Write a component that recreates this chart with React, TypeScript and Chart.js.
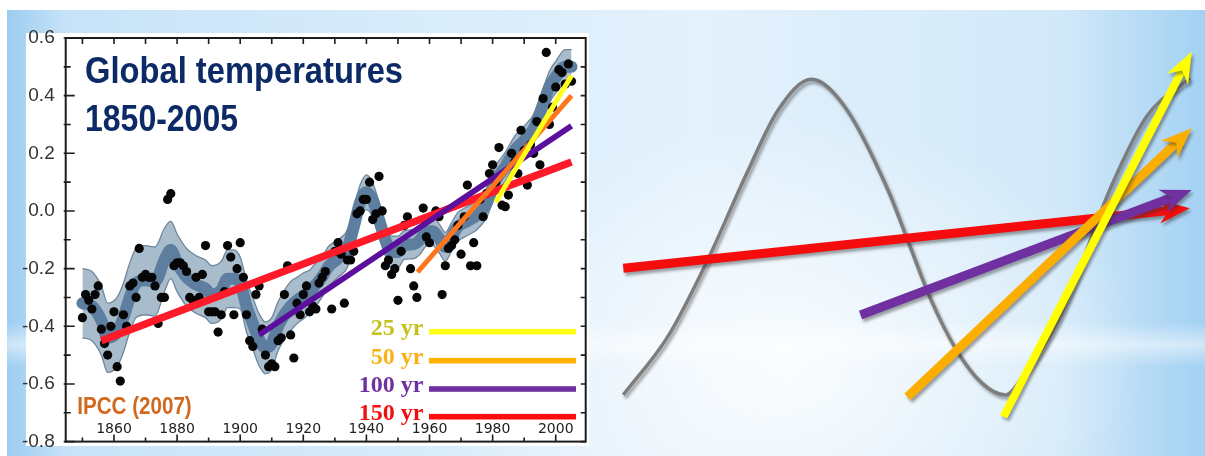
import React, { useEffect, useRef } from 'react';
import { Chart, registerables } from 'chart.js';

Chart.register(...registerables);

// ---------------- Left chart data ----------------
const YEARS = [
  1850, 1851, 1852, 1853, 1854, 1855, 1856, 1857, 1858, 1859,
  1860, 1861, 1862, 1863, 1864, 1865, 1866, 1867, 1868, 1869,
  1870, 1871, 1872, 1873, 1874, 1875, 1876, 1877, 1878, 1879,
  1880, 1881, 1882, 1883, 1884, 1885, 1886, 1887, 1888, 1889,
  1890, 1891, 1892, 1893, 1894, 1895, 1896, 1897, 1898, 1899,
  1900, 1901, 1902, 1903, 1904, 1905, 1906, 1907, 1908, 1909,
  1910, 1911, 1912, 1913, 1914, 1915, 1916, 1917, 1918, 1919,
  1920, 1921, 1922, 1923, 1924, 1925, 1926, 1927, 1929,
  1930, 1931, 1932, 1933, 1934, 1935, 1936, 1937, 1938, 1939,
  1940, 1941, 1942, 1943, 1944, 1945, 1946, 1947, 1948, 1949,
  1950, 1951, 1952, 1953, 1954, 1955, 1956, 1958, 1959,
  1960, 1962, 1963, 1964, 1965, 1966, 1967, 1968, 1969,
  1970, 1971, 1972, 1973, 1974, 1975, 1976, 1977, 1978, 1979,
  1980, 1981, 1982, 1983, 1984, 1985, 1986, 1987, 1988, 1989,
  1990, 1991, 1992, 1993, 1994, 1995, 1996, 1997, 1998, 1999,
  2000, 2001, 2002, 2003, 2004, 2005,
];
const ANOMALY = [
  -0.37, -0.29, -0.31, -0.34, -0.29, -0.26, -0.41, -0.46, -0.5, -0.4,
  -0.35, -0.54, -0.59, -0.36, -0.4, -0.26, -0.25, -0.3, -0.13, -0.23,
  -0.22, -0.23, -0.23, -0.26, -0.39, -0.3, -0.3, 0.04, 0.06, -0.19,
  -0.18, -0.18, -0.19, -0.21, -0.3, -0.31, -0.23, -0.3, -0.22, -0.12,
  -0.35, -0.35, -0.35, -0.42, -0.36, -0.28, -0.12, -0.16, -0.36, -0.2,
  -0.11, -0.23, -0.36, -0.45, -0.47, -0.29, -0.26, -0.41, -0.5, -0.54,
  -0.53, -0.54, -0.45, -0.44, -0.29, -0.19, -0.43, -0.51, -0.32, -0.36,
  -0.29, -0.26, -0.35, -0.33, -0.34, -0.25, -0.23, -0.21, -0.34,
  -0.14, -0.11, -0.15, -0.32, -0.17, -0.17, -0.14, -0.01, 0.0, 0.04,
  0.04, 0.1, -0.03, -0.01, 0.12, 0.0, -0.19, -0.17, -0.22, -0.2,
  -0.31, -0.14, -0.05, -0.02, -0.2, -0.26, -0.3, 0.01, -0.09,
  -0.11, 0.0, -0.02, -0.29, -0.19, -0.13, -0.12, -0.1, -0.05,
  -0.15, -0.02, 0.09, -0.19, -0.11, -0.19, 0.04, -0.02, 0.06, 0.13,
  0.16, 0.1, 0.22, 0.02, 0.015, 0.055, 0.2, 0.17, 0.13, 0.28,
  0.21, 0.09, 0.23, 0.2, 0.31, 0.16, 0.39, 0.55, 0.3, 0.36,
  0.43, 0.49, 0.48, 0.44, 0.51, 0.45,
];

const SMOOTH_YEARS = [
  1850, 1853, 1856, 1858, 1861, 1863, 1865, 1867, 1870, 1873,
  1876, 1878, 1880, 1883, 1886, 1889, 1891, 1894, 1896, 1898,
  1900, 1902, 1904, 1906, 1908, 1910, 1912, 1914, 1916, 1918,
  1920, 1922, 1924, 1926, 1928, 1931, 1934, 1936, 1938, 1940,
  1942, 1944, 1946, 1948, 1950, 1952, 1955, 1957, 1959, 1961,
  1963, 1965, 1967, 1969, 1972, 1975, 1978, 1981, 1984, 1987,
  1990, 1993, 1996, 1998, 2000, 2003, 2005,
];
const SMOOTH = [
  -0.32, -0.33, -0.38, -0.44, -0.42, -0.37, -0.3, -0.25, -0.24, -0.245,
  -0.17, -0.135, -0.18, -0.23, -0.255, -0.27, -0.29, -0.275, -0.235, -0.235,
  -0.25, -0.33, -0.39, -0.447, -0.475, -0.46, -0.4, -0.36, -0.33, -0.31,
  -0.295, -0.28, -0.255, -0.228, -0.193, -0.165, -0.13, -0.055, 0.03, 0.065,
  0.038, -0.03, -0.1, -0.142, -0.142, -0.118, -0.115, -0.1, -0.072, -0.07,
  -0.094, -0.124, -0.09, -0.055, -0.035, -0.015, 0.025, 0.107, 0.153, 0.21,
  0.245, 0.285, 0.37, 0.43, 0.464, 0.5, 0.5,
];
const BAND_UPPER = [
  -0.2, -0.21, -0.26, -0.32, -0.3, -0.25, -0.18, -0.13, -0.12, -0.125,
  -0.06, -0.035, -0.08, -0.13, -0.155, -0.17, -0.19, -0.175, -0.135, -0.135,
  -0.16, -0.24, -0.3, -0.357, -0.385, -0.37, -0.315, -0.275, -0.245, -0.23,
  -0.215, -0.205, -0.18, -0.158, -0.123, -0.1, -0.065, 0.01, 0.09, 0.125,
  0.098, 0.03, -0.045, -0.087, -0.087, -0.068, -0.065, -0.05, -0.022, -0.02,
  -0.044, -0.074, -0.04, -0.005, 0.015, 0.035, 0.075, 0.157, 0.203, 0.26,
  0.295, 0.335, 0.425, 0.485, 0.519, 0.56, 0.56,
];
const BAND_LOWER = [
  -0.44, -0.45, -0.5, -0.56, -0.54, -0.49, -0.42, -0.37, -0.36, -0.365,
  -0.28, -0.235, -0.28, -0.33, -0.355, -0.37, -0.39, -0.375, -0.335, -0.335,
  -0.34, -0.42, -0.48, -0.537, -0.565, -0.55, -0.485, -0.445, -0.415, -0.39,
  -0.375, -0.355, -0.33, -0.298, -0.263, -0.23, -0.195, -0.12, -0.03, 0.005,
  -0.022, -0.09, -0.155, -0.197, -0.197, -0.168, -0.165, -0.15, -0.122, -0.12,
  -0.144, -0.174, -0.14, -0.105, -0.085, -0.065, -0.025, 0.057, 0.103, 0.16,
  0.195, 0.235, 0.315, 0.375, 0.409, 0.44, 0.44,
];

// Linear trends: [start year, end year] and [start value, end value]
const TREND_150_X = [1856, 2005];
const TREND_150_Y = [-0.45, 0.17];
const TREND_100_X = [1906, 2005];
const TREND_100_Y = [-0.43, 0.295];
const TREND_50_X = [1956.2, 2005];
const TREND_50_Y = [-0.212, 0.4];
const TREND_25_X = [1981, 2005];
const TREND_25_Y = [0.031, 0.469];

const LEGEND_LABELS = ['25 yr', '50 yr', '100 yr', '150 yr'];
const X_TICKS = [1860, 1880, 1900, 1920, 1940, 1960, 1980, 2000];
const Y_TICKS = [-0.8, -0.6, -0.4, -0.2, 0.0, 0.2, 0.4, 0.6];

// ---------------- Right schematic data ----------------
const CURVE_X = [0.385, 1.131, 1.779, 2.426, 2.945, 3.496, 4.046, 4.759, 5.083, 5.471, 5.893, 6.314, 6.702, 7.025, 7.603, 8.446, 9.035, 9.752];
const CURVE_Y = [-0.726, -0.46, -0.121, 0.268, 0.552, 0.689, 0.566, 0.193, -0.031, -0.3, -0.525, -0.673, -0.726, -0.628, -0.377, 0.206, 0.522, 0.695];
const ARROW_RED_X = [0.385, 9.749];
const ARROW_RED_Y = [-0.158, 0.111];
const ARROW_PURPLE_X = [4.306, 9.78];
const ARROW_PURPLE_Y = [-0.368, 0.193];
const ARROW_ORANGE_X = [5.083, 9.78];
const ARROW_ORANGE_Y = [-0.734, 0.47];
const ARROW_YELLOW_X = [6.671, 9.78];
const ARROW_YELLOW_Y = [-0.824, 0.813];

const zip = (xs: number[], ys: number[]) => xs.map((x, i) => ({ x, y: ys[i] }));

const SANS = '"Liberation Sans", Arial, Helvetica, sans-serif';

function fitText(ctx: CanvasRenderingContext2D, text: string, x: number, y: number, width: number, font: string, color: string) {
  ctx.save();
  ctx.font = font;
  const w = ctx.measureText(text).width;
  ctx.translate(x, y);
  ctx.scale(width / w, 1);
  ctx.fillStyle = color;
  ctx.textAlign = 'left';
  ctx.textBaseline = 'alphabetic';
  ctx.fillText(text, 0, 0);
  ctx.restore();
}

const leftDecor = {
  id: 'leftDecor',
  afterDatasetsDraw(chart: any) {
    const { ctx, chartArea: a, scales } = chart;
    const xs = scales.x;
    const ys = scales.y;
    ctx.save();
    ctx.strokeStyle = '#1c1c1c';
    ctx.lineWidth = 2;
    ctx.strokeRect(a.left, a.top, a.right - a.left, a.bottom - a.top);
    ctx.lineWidth = 1.6;
    ctx.beginPath();
    for (let yr = 1850; yr <= 2000; yr += 10) {
      const px = xs.getPixelForValue(yr);
      const major = yr % 20 === 0;
      ctx.moveTo(px, a.bottom);
      ctx.lineTo(px, a.bottom - (major ? 7 : 4));
      ctx.moveTo(px, a.top);
      ctx.lineTo(px, a.top + 6);
    }
    for (let k = -8; k <= 6; k++) {
      const py = ys.getPixelForValue(k / 10);
      const major = k % 2 === 0;
      ctx.moveTo(a.left - 2, py);
      ctx.lineTo(a.left + (major ? 9 : 5), py);
      ctx.moveTo(a.right, py);
      ctx.lineTo(a.right - 5, py);
    }
    ctx.stroke();

    fitText(ctx, 'Global temperatures', 85, 83, 318, `bold 36px ${SANS}`, '#0c2a66');
    fitText(ctx, '1850-2005', 85, 131, 153, `bold 36px ${SANS}`, '#0c2a66');
    fitText(ctx, 'IPCC (2007)', 77.3, 414, 114.4, `bold 24px ${SANS}`, '#d2681d');

    const textColors = ['#c4c21c', '#fbb017', '#7030a0', '#f40d0d'];
    const lineColors = ['#ffff14', '#ffb300', '#7030a0', '#ff0d0d'];
    const baselines = [335, 363.5, 392, 419.5];
    const lineYs = [331.7, 360.7, 389, 416.7];
    ctx.font = `bold 24px "Liberation Serif", "Times New Roman", serif`;
    ctx.textAlign = 'right';
    ctx.textBaseline = 'alphabetic';
    LEGEND_LABELS.forEach((lab, i) => {
      ctx.fillStyle = textColors[i];
      ctx.fillText(lab, 423.5, baselines[i]);
      ctx.fillStyle = lineColors[i];
      ctx.fillRect(429, lineYs[i] - 2.8, 147, 5.6);
    });
    ctx.restore();
  },
};

const HEAD_LEN = 31;
const HEAD_HALF = 12;
const NOTCH = 0.68;

function arrowGeom(meta: any) {
  const pts = meta.data;
  const a = pts[pts.length - 2];
  const b = pts[pts.length - 1];
  const ang = Math.atan2(b.y - a.y, b.x - a.x);
  const ux = Math.cos(ang);
  const uy = Math.sin(ang);
  return { tx: b.x, ty: b.y, ux, uy, px: -uy, py: ux };
}

function setShadow(ctx: CanvasRenderingContext2D) {
  ctx.shadowColor = 'rgba(50,50,50,0.45)';
  ctx.shadowBlur = 3;
  ctx.shadowOffsetX = 2;
  ctx.shadowOffsetY = 3;
}

const arrowPlugin = {
  id: 'arrowPlugin',
  beforeDatasetDraw(chart: any, args: any) {
    const ctx = chart.ctx;
    const ds = chart.data.datasets[args.index];
    ctx.save();
    setShadow(ctx);
    if (ds.isArrow) {
      const g = arrowGeom(args.meta);
      const bx = g.tx - g.ux * (HEAD_LEN * NOTCH - 3);
      const by = g.ty - g.uy * (HEAD_LEN * NOTCH - 3);
      const R = 3000;
      ctx.beginPath();
      ctx.moveTo(bx + g.px * R, by + g.py * R);
      ctx.lineTo(bx - g.px * R, by - g.py * R);
      ctx.lineTo(bx - g.px * R - g.ux * R, by - g.py * R - g.uy * R);
      ctx.lineTo(bx + g.px * R - g.ux * R, by + g.py * R - g.uy * R);
      ctx.closePath();
      ctx.clip();
    }
  },
  afterDatasetDraw(chart: any, args: any) {
    const ctx = chart.ctx;
    ctx.restore();
    const ds = chart.data.datasets[args.index];
    if (!ds.isArrow) return;
    const g = arrowGeom(args.meta);
    ctx.save();
    setShadow(ctx);
    ctx.fillStyle = ds.borderColor;
    ctx.beginPath();
    ctx.moveTo(g.tx, g.ty);
    ctx.lineTo(g.tx - g.ux * HEAD_LEN + g.px * HEAD_HALF, g.ty - g.uy * HEAD_LEN + g.py * HEAD_HALF);
    ctx.lineTo(g.tx - g.ux * HEAD_LEN * NOTCH, g.ty - g.uy * HEAD_LEN * NOTCH);
    ctx.lineTo(g.tx - g.ux * HEAD_LEN - g.px * HEAD_HALF, g.ty - g.uy * HEAD_LEN - g.py * HEAD_HALF);
    ctx.closePath();
    ctx.fill();
    ctx.restore();
  },
};

export default function App() {
  const leftRef = useRef<HTMLCanvasElement | null>(null);
  const rightRef = useRef<HTMLCanvasElement | null>(null);

  useEffect(() => {
    const left = new Chart(leftRef.current as HTMLCanvasElement, {
      type: 'line',
      data: {
        datasets: [
          {
            label: 'uncertainty upper',
            data: zip(SMOOTH_YEARS, BAND_UPPER),
            borderColor: '#6d869d',
            borderWidth: 1.3,
            backgroundColor: '#a9bccc',
            fill: '+1',
            pointRadius: 0,
            cubicInterpolationMode: 'monotone',
            order: 7,
          },
          {
            label: 'uncertainty lower',
            data: zip(SMOOTH_YEARS, BAND_LOWER),
            borderColor: '#6d869d',
            borderWidth: 1.3,
            fill: false,
            pointRadius: 0,
            cubicInterpolationMode: 'monotone',
            order: 6,
          },
          {
            label: 'smoothed',
            data: zip(SMOOTH_YEARS, SMOOTH),
            borderColor: '#5d7e9e',
            borderWidth: 12,
            fill: false,
            pointRadius: 0,
            cubicInterpolationMode: 'monotone',
            borderCapStyle: 'round',
            borderJoinStyle: 'round',
            order: 5,
          },
          {
            label: 'annual',
            data: zip(YEARS, ANOMALY),
            showLine: false,
            pointRadius: 4.6,
            pointBackgroundColor: '#060606',
            pointBorderWidth: 0,
            order: 4,
          },
          {
            label: '150 yr',
            data: zip(TREND_150_X, TREND_150_Y),
            borderColor: '#ff1a2a',
            borderWidth: 7.5,
            pointRadius: 0,
            borderCapStyle: 'butt',
            order: 3,
          },
          {
            label: '100 yr',
            data: zip(TREND_100_X, TREND_100_Y),
            borderColor: '#5b0f9c',
            borderWidth: 5.8,
            pointRadius: 0,
            borderCapStyle: 'butt',
            order: 2,
          },
          {
            label: '50 yr',
            data: zip(TREND_50_X, TREND_50_Y),
            borderColor: '#ff761c',
            borderWidth: 5,
            pointRadius: 0,
            borderCapStyle: 'butt',
            order: 1,
          },
          {
            label: '25 yr',
            data: zip(TREND_25_X, TREND_25_Y),
            borderColor: '#ffff1a',
            borderWidth: 5,
            pointRadius: 0,
            borderCapStyle: 'butt',
            order: 0,
          },
        ],
      },
      options: {
        responsive: false,
        animation: false,
        events: [],
        layout: { padding: { top: 38, right: 14.3, left: 0, bottom: 0 } },
        plugins: {
          legend: { display: false },
          tooltip: { enabled: false },
          title: { display: false },
        },
        scales: {
          x: {
            type: 'linear',
            min: 1844.7,
            max: 2009.5,
            grid: { display: false },
            border: { display: false },
            afterBuildTicks: (s: any) => {
              s.ticks = X_TICKS.map((v) => ({ value: v }));
            },
            afterFit: (s: any) => {
              s.height = 13.3;
            },
            ticks: {
              mirror: true,
              padding: 3.5,
              maxRotation: 0,
              autoSkip: false,
              font: { family: '"DejaVu Sans", Verdana, sans-serif', size: 14 },
              color: '#222',
              callback: (v: any) => String(v),
            },
          },
          y: {
            type: 'linear',
            min: -0.8,
            max: 0.6,
            grid: { display: false },
            border: { display: false },
            afterBuildTicks: (s: any) => {
              s.ticks = Y_TICKS.map((v) => ({ value: v }));
            },
            afterFit: (s: any) => {
              s.width = 65.7;
            },
            ticks: {
              padding: 3,
              font: { family: SANS, size: 19 },
              color: '#333',
              callback: (v: any) => Number(v).toFixed(1),
            },
          },
        },
      },
      plugins: [leftDecor],
    } as any);

    const right = new Chart(rightRef.current as HTMLCanvasElement, {
      type: 'line',
      data: {
        datasets: [
          {
            label: 'oscillation',
            data: zip(CURVE_X, CURVE_Y),
            borderColor: '#7d7d7d',
            borderWidth: 3.5,
            pointRadius: 0,
            cubicInterpolationMode: 'monotone',
            order: 5,
          },
          {
            label: '150 yr',
            data: zip(ARROW_RED_X, ARROW_RED_Y),
            borderColor: '#f50d0d',
            borderWidth: 9,
            pointRadius: 0,
            borderCapStyle: 'butt',
            isArrow: true,
            order: 4,
          },
          {
            label: '100 yr',
            data: zip(ARROW_PURPLE_X, ARROW_PURPLE_Y),
            borderColor: '#7030a0',
            borderWidth: 9,
            pointRadius: 0,
            borderCapStyle: 'butt',
            isArrow: true,
            order: 3,
          },
          {
            label: '50 yr',
            data: zip(ARROW_ORANGE_X, ARROW_ORANGE_Y),
            borderColor: '#fbae00',
            borderWidth: 9,
            pointRadius: 0,
            borderCapStyle: 'butt',
            isArrow: true,
            order: 2,
          },
          {
            label: '25 yr',
            data: zip(ARROW_YELLOW_X, ARROW_YELLOW_Y),
            borderColor: '#ffff00',
            borderWidth: 8,
            pointRadius: 0,
            borderCapStyle: 'butt',
            isArrow: true,
            order: 1,
          },
        ],
      },
      options: {
        responsive: false,
        animation: false,
        events: [],
        layout: { padding: 0 },
        plugins: { legend: { display: false }, tooltip: { enabled: false } },
        scales: {
          x: { type: 'linear', display: false, min: 0, max: 10 },
          y: { type: 'linear', display: false, min: -1, max: 1 },
        },
      },
      plugins: [arrowPlugin],
    } as any);

    return () => {
      left.destroy();
      right.destroy();
    };
  }, []);

  return (
    <div style={{ position: 'fixed', left: 0, top: 0, width: 1205, height: 456, background: '#ffffff', overflow: 'hidden' }}>
      <div
        style={{
          position: 'absolute',
          left: 7,
          top: 10,
          width: 1198,
          height: 446,
          background:
            'linear-gradient(to bottom, rgba(255,255,255,0) 70%, rgba(255,255,255,0.5) 75%, rgba(255,255,255,0) 80%),' +
            'radial-gradient(ellipse 30% 55% at 65% 80%, rgba(255,255,255,0.85) 0%, rgba(255,255,255,0) 100%),' +
            'linear-gradient(to right, #9ccdf1 0%, #c7e3f8 5%, #d6ebfa 30%, #e3f1fc 58%, #d2e9f9 88%, #a3d1f3 100%)',
        }}
      />
      <div style={{ position: 'absolute', left: 26, top: 33, width: 563, height: 413, background: '#ffffff' }} />
      <canvas ref={leftRef} width={600} height={456} style={{ position: 'absolute', left: 0, top: 0 }} />
      <canvas ref={rightRef} width={605} height={446} style={{ position: 'absolute', left: 600, top: 10 }} />
    </div>
  );
}
